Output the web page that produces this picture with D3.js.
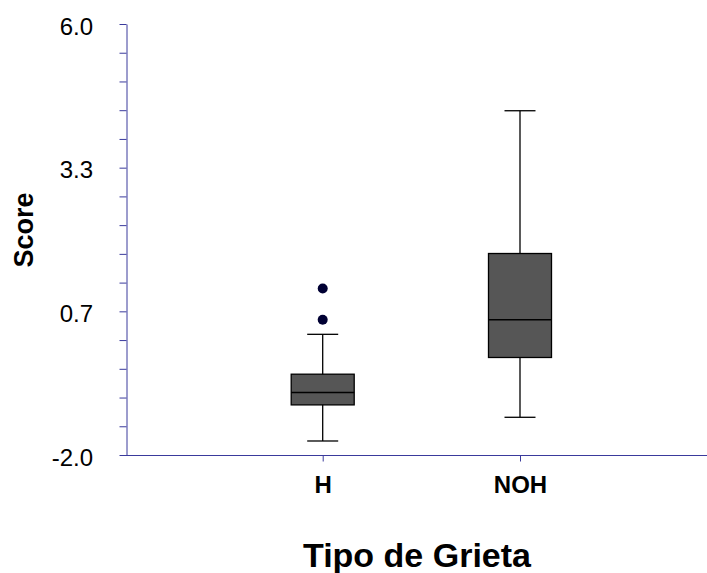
<!DOCTYPE html>
<html>
<head>
<meta charset="utf-8">
<script src="https://cdn.jsdelivr.net/npm/d3@7"></script>
<style>
body { margin: 0; background: #fff; }
text { font-family: Arial, "Liberation Sans", sans-serif; }
</style>
</head>
<body>
<div id="graph"></div>
<script>
// data
var groups = ["H", "NOH"];
var q1 = [-1.07, -0.19];
var median = [-0.84, 0.51];
var q3 = [-0.50, 1.74];
var whiskLow = [-1.74, -1.30];
var whiskHigh = [0.24, 4.39];
var outlierGroup = ["H", "H"];
var outlierVal = [1.09, 0.51];
var tickLabels = ["-2.0", "0.7", "3.3", "6.0"];

var w = 707, h = 573;
var vis = d3.select("#graph").append("svg").attr("width", w).attr("height", h);

var y = d3.scaleLinear().domain([-2, 6]).range([455, 24]);
var x = d3.scalePoint().domain(groups).range([322.7, 520]);
var axisColor = "#3a3a9c";
var font = "Arial, 'Liberation Sans', sans-serif";

// y axis: 15 intervals, label every 5th
var yticks = d3.range(16).map(function(i) { return -2 + i * 8 / 15; });
var yAxis = d3.axisLeft(y).tickValues(yticks).tickSize(7).tickSizeOuter(0)
  .tickFormat(function(d, i) { return i % 5 == 0 ? tickLabels[i / 5] : ""; });
var gy = vis.append("g").attr("transform", "translate(126.5,0)").call(yAxis);
gy.select(".domain").attr("stroke", axisColor);
gy.selectAll(".tick line").attr("stroke", axisColor);
gy.selectAll(".tick text").attr("font-size", "24px").attr("fill", "#000")
  .attr("x", -33.5).attr("dy", "0.42em").attr("font-family", font);

// x axis
var xAxis = d3.axisBottom(x).tickSize(6).tickSizeOuter(0);
var gx = vis.append("g").attr("transform", "translate(0,455.5)").call(xAxis);
gx.select(".domain").remove();
gx.append("line").attr("x1", 126).attr("x2", w).attr("stroke", axisColor);
gx.selectAll(".tick line").attr("stroke", axisColor);
gx.selectAll(".tick text").attr("font-size", "24px").attr("font-weight", "bold")
  .attr("fill", "#000").attr("y", 37.5).attr("dy", 0)
  .attr("font-family", font);

// boxes
var boxW = 63, capW = 31;
var boxes = groups.map(function(g, i) {
  return {g: g, q1: q1[i], med: median[i], q3: q3[i], lo: whiskLow[i], hi: whiskHigh[i]};
});
var bg = vis.selectAll(".box").data(boxes).enter().append("g").attr("class", "box");
bg.append("line")
  .attr("x1", function(d) { return x(d.g); }).attr("x2", function(d) { return x(d.g); })
  .attr("y1", function(d) { return y(d.hi); }).attr("y2", function(d) { return y(d.lo); })
  .attr("stroke", "#000").attr("stroke-width", 1.3);
[ "hi", "lo" ].forEach(function(k) {
  bg.append("line")
    .attr("x1", function(d) { return x(d.g) - capW / 2; })
    .attr("x2", function(d) { return x(d.g) + capW / 2; })
    .attr("y1", function(d) { return y(d[k]); }).attr("y2", function(d) { return y(d[k]); })
    .attr("stroke", "#000").attr("stroke-width", 1.3);
});
bg.append("rect")
  .attr("x", function(d) { return x(d.g) - boxW / 2; })
  .attr("y", function(d) { return y(d.q3); })
  .attr("width", boxW)
  .attr("height", function(d) { return y(d.q1) - y(d.q3); })
  .attr("fill", "#565656").attr("stroke", "#000").attr("stroke-width", 1.3);
bg.append("line")
  .attr("x1", function(d) { return x(d.g) - boxW / 2; })
  .attr("x2", function(d) { return x(d.g) + boxW / 2; })
  .attr("y1", function(d) { return y(d.med); }).attr("y2", function(d) { return y(d.med); })
  .attr("stroke", "#000").attr("stroke-width", 1.3);

// outliers
vis.selectAll(".out").data(outlierVal).enter().append("circle")
  .attr("class", "out")
  .attr("cx", function(d, i) { return x(outlierGroup[i]); })
  .attr("cy", function(d) { return y(d); })
  .attr("r", 5)
  .attr("fill", "#000033");

// axis titles
vis.append("text").attr("x", 417).attr("y", 566.5).attr("text-anchor", "middle")
  .attr("font-size", "34px").attr("font-weight", "bold").text("Tipo de Grieta");
vis.append("text").attr("transform", "translate(33,230) rotate(-90)")
  .attr("text-anchor", "middle").attr("font-size", "27px").attr("font-weight", "bold")
  .text("Score");
</script>
</body>
</html>
